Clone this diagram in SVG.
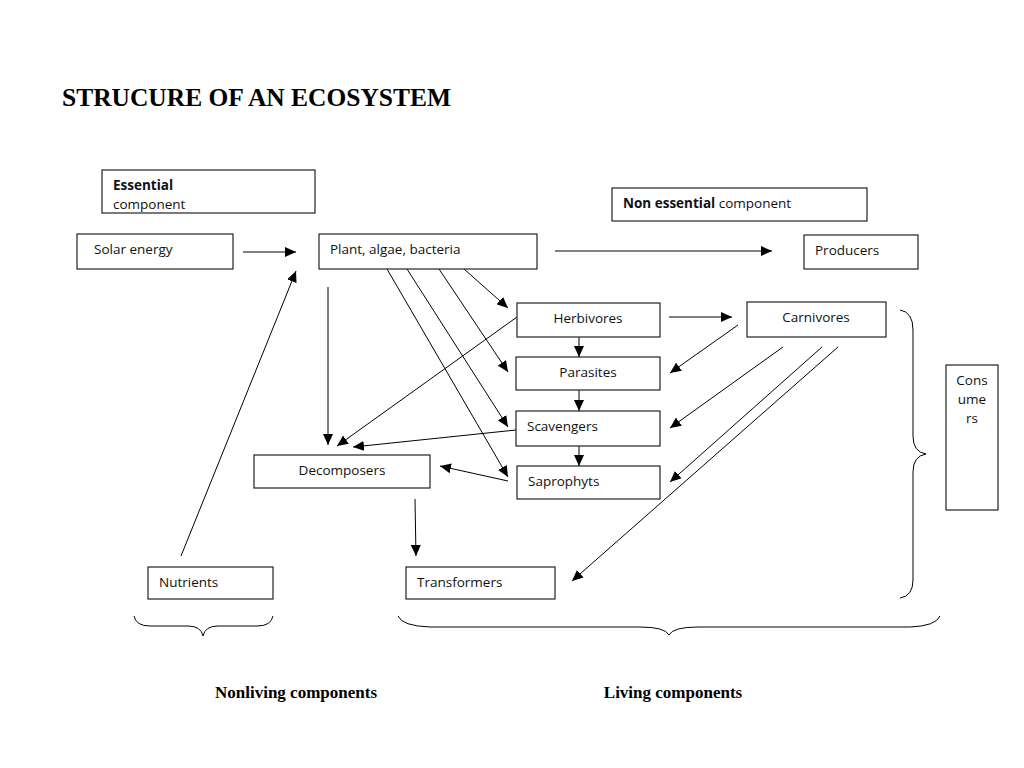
<svg xmlns="http://www.w3.org/2000/svg" width="1024" height="768" viewBox="0 0 1024 768">
<defs>
<marker id="ah" markerUnits="userSpaceOnUse" markerWidth="12" markerHeight="10" refX="11" refY="5" orient="auto">
<path d="M0,0 L11,5 L0,10 Z" fill="#000"/>
</marker>
<style>
.box{fill:#fff;stroke:#222;stroke-width:1.2}
.t{font-family:"Open Sans","Liberation Sans",sans-serif;font-size:13.5px;fill:#111}
.b{font-weight:bold}
.c{stroke:#000;stroke-width:1;fill:none}
.a{stroke:#000;stroke-width:1;fill:none;marker-end:url(#ah)}
.h{font-family:"Liberation Serif",serif;font-weight:bold;fill:#000}
</style>
</defs>
<rect width="1024" height="768" fill="#fff"/>
<text class="h" x="62" y="106" font-size="25" textLength="389" lengthAdjust="spacingAndGlyphs">STRUCURE OF AN ECOSYSTEM</text>

<g id="connectors">
<line class="a" x1="243" y1="252" x2="296" y2="252"/>
<line class="a" x1="555" y1="251" x2="772" y2="251"/>
<line class="a" x1="181" y1="556" x2="296" y2="271"/>
<line class="a" x1="387" y1="269" x2="508" y2="477"/>
<line class="a" x1="407" y1="269" x2="508" y2="427"/>
<line class="a" x1="439" y1="269" x2="508" y2="372"/>
<line class="a" x1="464" y1="269" x2="508" y2="308"/>
<line class="a" x1="328" y1="287" x2="328" y2="445"/>
<line class="a" x1="517" y1="317" x2="337" y2="446"/>
<line class="a" x1="516" y1="430" x2="353" y2="447"/>
<line class="a" x1="508" y1="481" x2="440" y2="466"/>
<line class="a" x1="415" y1="499" x2="416" y2="556"/>
<line class="a" x1="669" y1="317" x2="732" y2="317"/>
<line class="a" x1="579" y1="337" x2="579" y2="357"/>
<line class="a" x1="579" y1="390" x2="579" y2="411"/>
<line class="a" x1="579" y1="446" x2="579" y2="466"/>
<line class="a" x1="738" y1="325" x2="670" y2="373"/>
<line class="a" x1="783" y1="347" x2="670" y2="428"/>
<line class="a" x1="822" y1="347" x2="670" y2="482"/>
<line class="a" x1="838" y1="347" x2="572" y2="581"/>
<path class="c" d="M900,310 Q913,312 913,330 L913,436 Q913,452 926,454 Q913,456 913,472 L913,580 Q913,596 900,598"/>
<path class="c" d="M134,616 Q136,626 150,626 L188,626 Q201,626 203,636 Q205,626 218,626 L257,626 Q271,626 273,616"/>
<path class="c" d="M398,616 Q402,626 430,627 L640,627 Q665,627 669,635 Q673,627 698,627 L910,627 Q936,626 940,616"/>
</g>

<g id="essential">
<rect class="box" x="102" y="170" width="213" height="43"/>
<text class="t b" x="113" y="190">Essential</text>
<text class="t" x="113" y="209">component</text>
</g>
<g id="nonessential">
<rect class="box" x="612" y="188" width="255" height="33"/>
<text class="t" x="623" y="208"><tspan class="b">Non essential</tspan> component</text>
</g>
<g id="solar">
<rect class="box" x="77" y="234" width="156" height="35"/>
<text class="t" x="94" y="254">Solar energy</text>
</g>
<g id="plant">
<rect class="box" x="319" y="234" width="218" height="35"/>
<text class="t" x="330" y="254">Plant, algae, bacteria</text>
</g>
<g id="producers">
<rect class="box" x="804" y="235" width="114" height="34"/>
<text class="t" x="815" y="255">Producers</text>
</g>
<g id="herbivores">
<rect class="box" x="517" y="303" width="143" height="34"/>
<text class="t" x="588" y="323" text-anchor="middle">Herbivores</text>
</g>
<g id="carnivores">
<rect class="box" x="747" y="302" width="139" height="35"/>
<text class="t" x="816" y="322" text-anchor="middle">Carnivores</text>
</g>
<g id="parasites">
<rect class="box" x="516" y="357" width="144" height="33"/>
<text class="t" x="588" y="377" text-anchor="middle">Parasites</text>
</g>
<g id="scavengers">
<rect class="box" x="516" y="411" width="144" height="35"/>
<text class="t" x="527" y="431">Scavengers</text>
</g>
<g id="saprophyts">
<rect class="box" x="517" y="466" width="143" height="33"/>
<text class="t" x="528" y="486">Saprophyts</text>
</g>
<g id="decomposers">
<rect class="box" x="254" y="455" width="176" height="33"/>
<text class="t" x="342" y="475" text-anchor="middle">Decomposers</text>
</g>
<g id="nutrients">
<rect class="box" x="148" y="567" width="125" height="32"/>
<text class="t" x="159" y="587">Nutrients</text>
</g>
<g id="transformers">
<rect class="box" x="406" y="567" width="149" height="32"/>
<text class="t" x="417" y="587">Transformers</text>
</g>
<g id="consumers">
<rect class="box" x="946" y="365" width="52" height="145"/>
<text class="t" x="972" y="385" text-anchor="middle">Cons</text>
<text class="t" x="972" y="404" text-anchor="middle">ume</text>
<text class="t" x="972" y="423" text-anchor="middle">rs</text>
</g>
<g id="labels">
<text class="h" x="296" y="698" font-size="17" text-anchor="middle">Nonliving components</text>
<text class="h" x="673" y="698" font-size="17" text-anchor="middle">Living components</text>
</g>
</svg>
